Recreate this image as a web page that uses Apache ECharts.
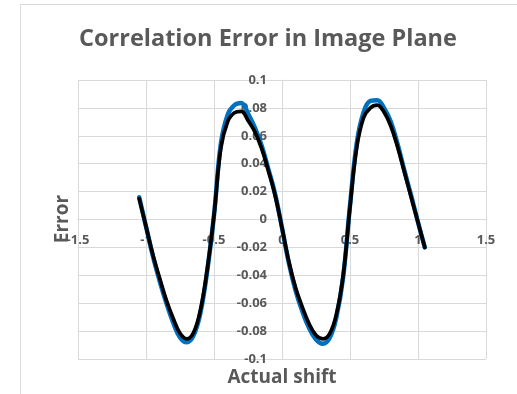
<!DOCTYPE html>
<html>
<head>
<meta charset="utf-8">
<script src="https://cdn.jsdelivr.net/npm/echarts@6/dist/echarts.min.js"></script>
<style>
  html, body { margin: 0; padding: 0; background: #fff; }
  #chart { width: 517px; height: 394px; }
</style>
</head>
<body>
<div id="chart"></div>
<script>
// Actual shift (x) sampled every 0.05 px
const shifts = [
  -1.05, -1.00, -0.95, -0.90, -0.85, -0.80, -0.75, -0.70, -0.65, -0.60, -0.55,
  -0.50, -0.45, -0.40, -0.35, -0.30, -0.25, -0.20, -0.15, -0.10, -0.05,
   0.00,  0.05,  0.10,  0.15,  0.20,  0.25,  0.30,  0.35,  0.40,  0.45,
   0.50,  0.55,  0.60,  0.65,  0.70,  0.75,  0.80,  0.85,  0.90,  0.95,
   1.00,  1.05
];

// Error of the first estimate (blue curve)
const errorBlue = [
   0.016, -0.005, -0.026, -0.044, -0.060, -0.074, -0.0845, -0.088, -0.083, -0.067, -0.037,
   0.003,  0.054,  0.075,  0.082,  0.0835, 0.076,  0.066,  0.053,  0.036,  0.018,
  -0.006, -0.031, -0.051, -0.066, -0.078, -0.086, -0.089, -0.085, -0.070, -0.041,
   0.010,  0.055,  0.077,  0.085,  0.0855, 0.080,  0.070,  0.054,  0.035,  0.017,
  -0.002, -0.020
];

// Error of the second estimate (black curve)
const errorBlack = [
   0.015, -0.005, -0.025, -0.042, -0.058, -0.071, -0.0815, -0.0855, -0.081, -0.065, -0.036,
   0.003,  0.051,  0.070,  0.0765, 0.0775, 0.071,  0.063,  0.051,  0.035,  0.017,
  -0.006, -0.030, -0.049, -0.063, -0.075, -0.083, -0.0855, -0.082, -0.068, -0.040,
   0.009,  0.052,  0.073,  0.080,  0.082,  0.077,  0.067,  0.052,  0.034,  0.016,
  -0.002, -0.020
];

// Tick labels
const xTicks = ['-1.5', '-1', '-0.5', '0', '0.5', '1', '1.5'];
const yTicks = ['-0.1', '-0.08', '-0.06', '-0.04', '-0.02', '0', '0.02', '0.04', '0.06', '0.08', '0.1'];

const chartTitle = 'Correlation Error in Image Plane';
const xName = 'Actual shift';
const yName = 'Error';

const FONT = '"Open Sans", sans-serif';
const GREY = '#595959';
const GRID = '#d9d9d9';

// plot box
const G = { left: 78, right: 31, top: 80, bottom: 35, width: 408, height: 279 };

function pairs(xs, ys) { return xs.map((x, i) => [x, ys[i]]); }

// The axes cross at (0, 0): shift each axis from the grid edge onto the zero line
const xAxisOffset = -G.height * (0 - (-0.1)) / 0.2;    // up from the bottom edge
const yAxisOffset = -G.width * (0 - (-1.5)) / 3.0;     // right from the left edge

const chart = echarts.init(document.getElementById('chart'), null, { renderer: 'canvas' });

chart.setOption({
  animation: false,
  backgroundColor: '#fff',
  grid: { left: G.left, right: G.right, top: G.top, bottom: G.bottom, containLabel: false },
  xAxis: {
    type: 'value', min: -1.5, max: 1.5, interval: 0.5,
    position: 'bottom', offset: xAxisOffset,
    axisLine: { onZero: false, lineStyle: { color: GRID, width: 1 } },
    axisTick: { show: false },
    splitLine: { show: true, lineStyle: { color: GRID, width: 1 } },
    axisLabel: {
      margin: 14, color: GREY, fontFamily: FONT, fontWeight: 'bold', fontSize: 13,
      showMinLabel: true, showMaxLabel: true,
      formatter: v => xTicks[Math.round((v + 1.5) / 0.5)]
    }
  },
  yAxis: {
    type: 'value', min: -0.1, max: 0.1, interval: 0.02,
    position: 'left', offset: yAxisOffset,
    axisLine: { onZero: false, lineStyle: { color: GRID, width: 1 } },
    axisTick: { show: false },
    splitLine: { show: true, lineStyle: { color: GRID, width: 1 } },
    axisLabel: {
      margin: 15, color: GREY, fontFamily: FONT, fontWeight: 'bold', fontSize: 13,
      showMinLabel: true, showMaxLabel: true,
      formatter: v => yTicks[Math.round((v + 0.1) / 0.02)]
    }
  },
  series: [
    {
      type: 'line', data: pairs(shifts, errorBlue), smooth: 0.4, showSymbol: false,
      lineStyle: { color: '#0070c0', width: 4.5, cap: 'round', join: 'round' }, z: 2
    },
    {
      type: 'line', data: pairs(shifts, errorBlack), smooth: 0.4, showSymbol: false,
      lineStyle: { color: '#000000', width: 3.75, cap: 'round', join: 'round' }, z: 3
    }
  ],
  graphic: [
    {
      type: 'rect', silent: true, z: -10,
      shape: { x: 20.5, y: 4.5, width: 600, height: 500 },
      style: { fill: 'none', stroke: GRID, lineWidth: 1 }
    },
    {
      type: 'text', x: 268, y: 39, silent: true,
      style: {
        text: chartTitle, fill: GREY, font: 'bold 23.5px ' + FONT,
        textAlign: 'center', textVerticalAlign: 'middle'
      }
    },
    {
      type: 'text', x: 282, y: 378, silent: true,
      style: {
        text: xName, fill: GREY, font: 'bold 19px ' + FONT,
        textAlign: 'center', textVerticalAlign: 'middle'
      }
    },
    {
      type: 'text', x: 63, y: 219, rotation: Math.PI / 2, silent: true, z: 10,
      style: {
        text: yName, fill: GREY, font: 'bold 19px ' + FONT,
        textAlign: 'center', textVerticalAlign: 'middle'
      }
    }
  ]
});
</script>
</body>
</html>
